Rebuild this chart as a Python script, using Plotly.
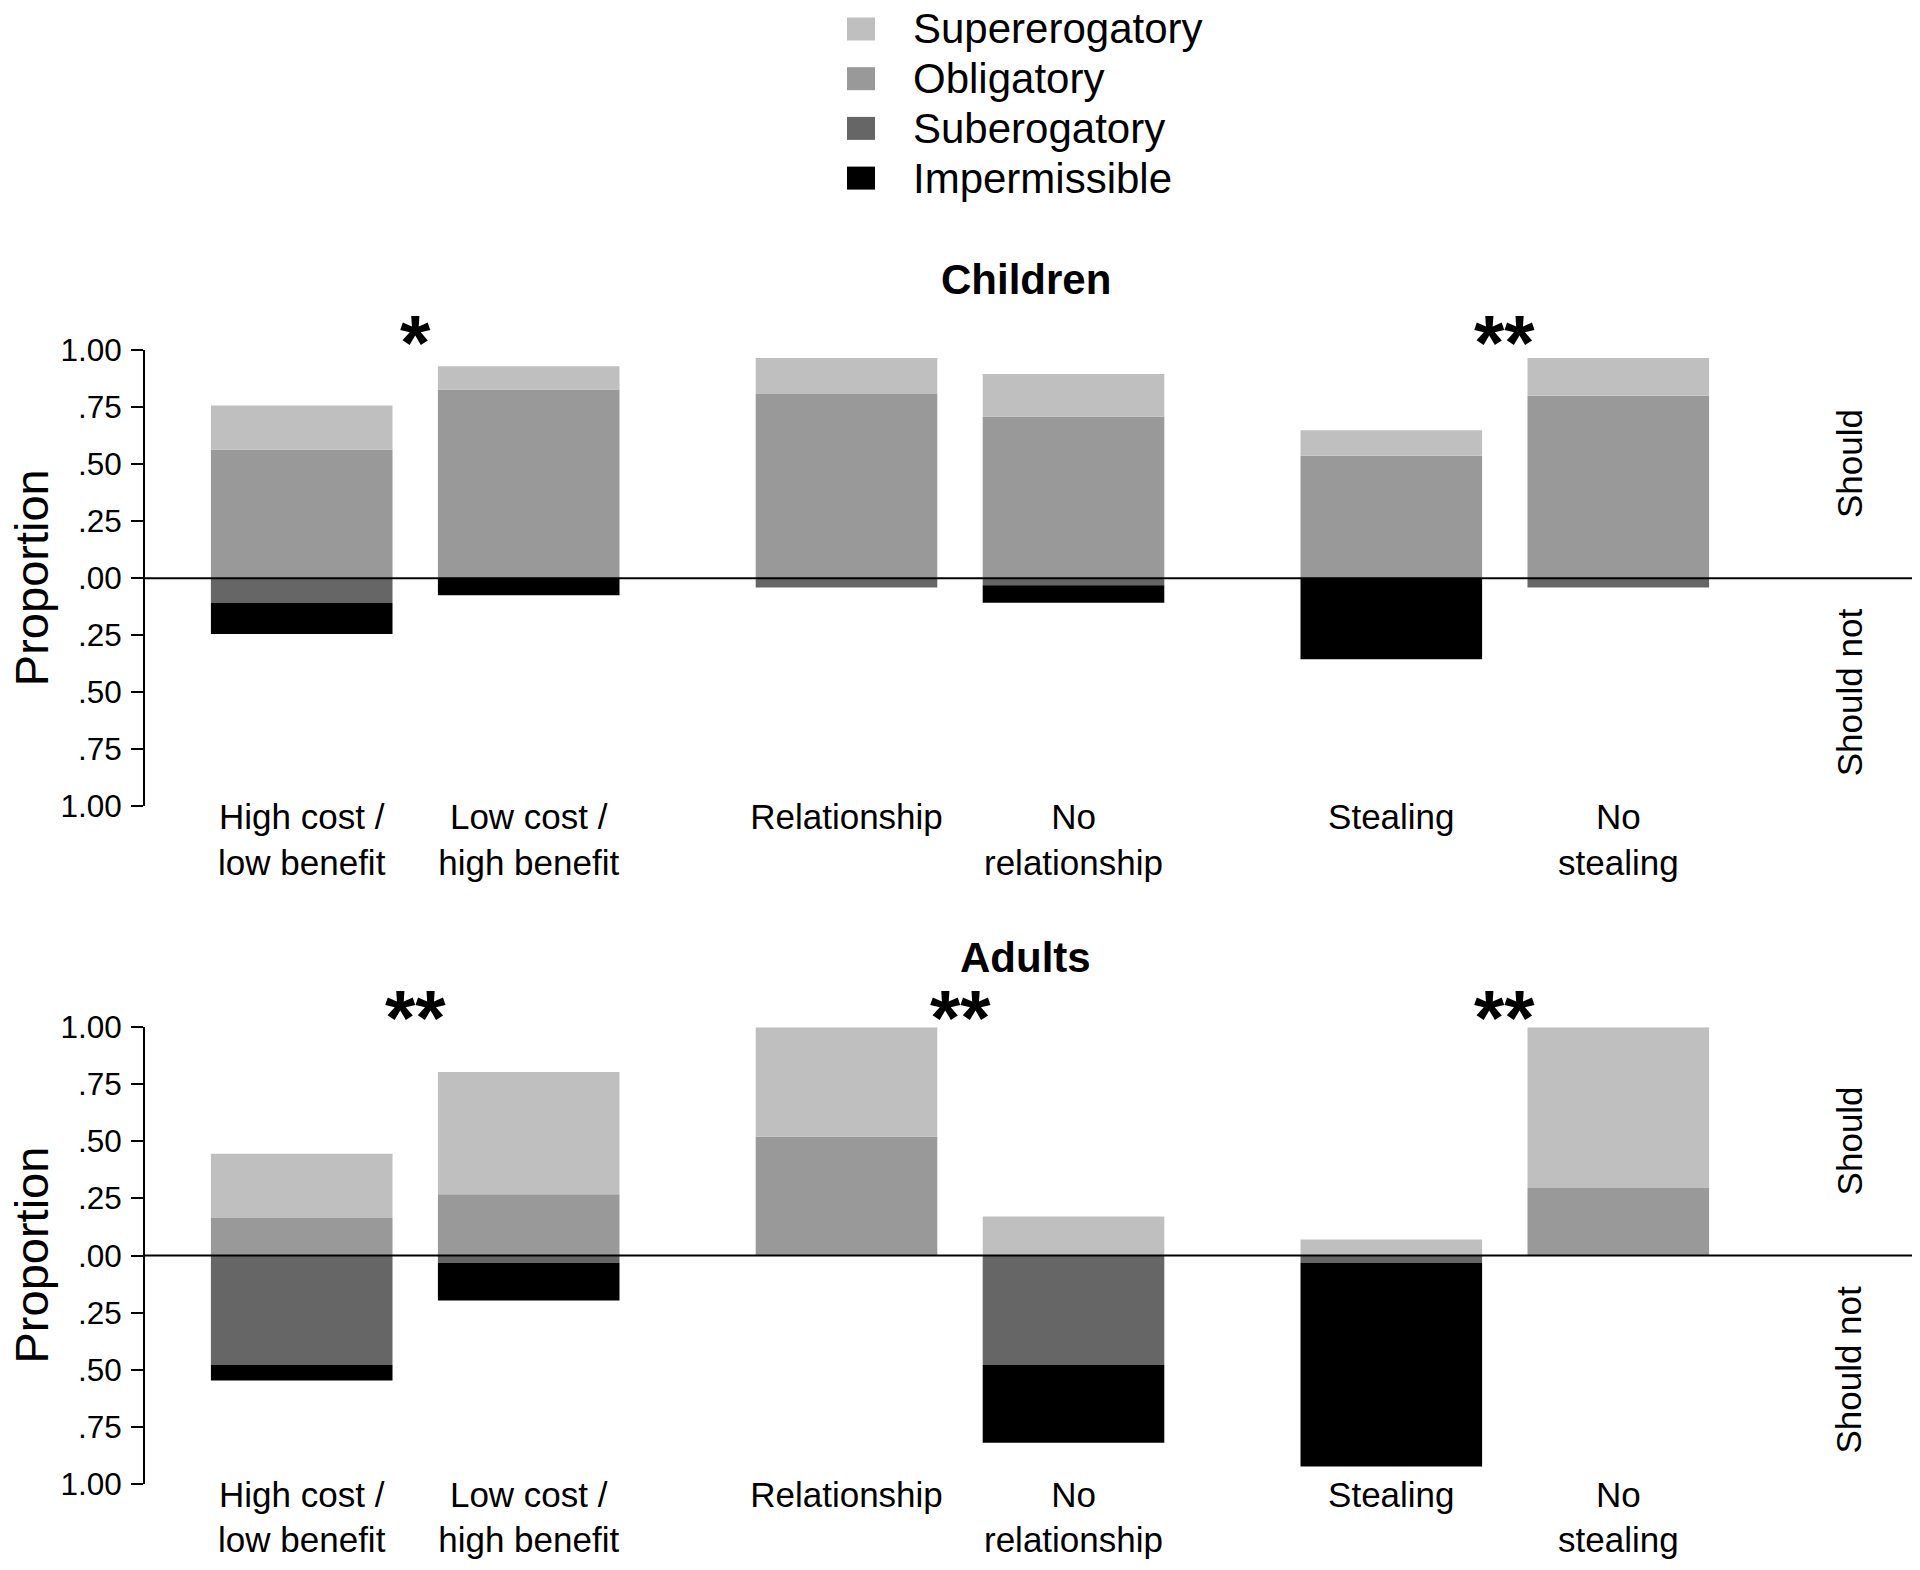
import plotly.graph_objects as go

# ---------------------
# Data
# ---------------------
categories = ["High cost /<br>low benefit", "Low cost /<br>high benefit",
              "Relationship", "No<br>relationship",
              "Stealing", "No<br>stealing"]
x_pos = [0, 1, 2.4, 3.4, 4.8, 5.8]

series = ["Supererogatory", "Obligatory", "Suberogatory", "Impermissible"]
colors = ["#bfbfbf", "#999999", "#666666", "#000000"]

# Children (proportions; suberogatory / impermissible go below zero)
child_super = [0.193, 0.102, 0.158, 0.186, 0.111, 0.165]
child_oblig = [0.564, 0.827, 0.807, 0.709, 0.537, 0.800]
child_sub = [0.109, 0.0, 0.041, 0.031, 0.0, 0.041]
child_imp = [0.136, 0.075, 0.0, 0.077, 0.356, 0.0]

# Adults
adult_super = [0.282, 0.536, 0.479, 0.171, 0.070, 0.704]
adult_oblig = [0.164, 0.268, 0.521, 0.0, 0.0, 0.296]
adult_sub = [0.480, 0.032, 0.0, 0.480, 0.033, 0.0]
adult_imp = [0.068, 0.165, 0.0, 0.341, 0.892, 0.0]

# significance marks: (x between bars, text)
child_sig = [(0.5, "*"), (5.3, "**")]
adult_sig = [(0.5, "**"), (2.9, "**"), (5.3, "**")]

ytick_vals = [-1, -0.75, -0.5, -0.25, 0, 0.25, 0.5, 0.75, 1]
ytick_text = ["1.00", ".75", ".50", ".25", ".00", ".25", ".50", ".75", "1.00"]

FONT = "Liberation Sans, Arial, sans-serif"
W, H = 1920, 1570
OFF = 8  # page body margin


def px(s):
    return (s - OFF) / W


def py(s):
    return 1 - (s - OFF) / H


fig = go.Figure()


def add_panel(sup, obl, sub, imp, xa, ya):
    # stacking order: positives (oblig, then super), negatives (sub, then imp)
    stacks = [
        (obl, colors[1]),
        (sup, colors[0]),
        ([-v for v in sub], colors[2]),
        ([-v for v in imp], colors[3]),
    ]
    for vals, col in stacks:
        fig.add_trace(go.Bar(
            x=x_pos, y=vals, width=0.8, marker_color=col,
            marker_line_width=0, xaxis=xa, yaxis=ya, showlegend=False,
        ))


add_panel(child_super, child_oblig, child_sub, child_imp, "x", "y")
add_panel(adult_super, adult_oblig, adult_sub, adult_imp, "x2", "y2")

# pixel geometry -> paper domains
x_dom = [px(145), 1.0]
top_dom = [py(806.3), py(350)]
bot_dom = [py(1483.7), py(1027.3)]
x_unit = 227.0
x_zero = 301.7 - OFF
x_range = [(145 - OFF - x_zero) / x_unit, (W - x_zero) / x_unit]

xaxis_common = dict(
    range=x_range, tickvals=x_pos, ticktext=categories, showline=False,
    showgrid=False, zeroline=False, ticks="", automargin=False,
    ticklabelstandoff=-13,
    tickfont=dict(family=FONT, size=35, color="black"),
)
yaxis_common = dict(
    range=[-1, 1], tickvals=ytick_vals, ticktext=ytick_text,
    showline=True, linecolor="black", linewidth=2, ticks="outside",
    ticklen=12, tickwidth=2, tickcolor="black", showgrid=False,
    zeroline=False, ticklabelstandoff=3, automargin=False,
    tickfont=dict(family=FONT, size=31.5, color="black"),
)

fig.update_layout(
    barmode="relative",
    width=W, height=H,
    margin=dict(l=0, r=0, t=0, b=0, autoexpand=False),
    plot_bgcolor="white", paper_bgcolor="white",
    xaxis=dict(domain=x_dom, anchor="y", **xaxis_common),
    yaxis=dict(domain=top_dom, anchor="x", **yaxis_common),
    xaxis2=dict(domain=x_dom, anchor="y2", **xaxis_common),
    yaxis2=dict(domain=bot_dom, anchor="x2", **yaxis_common),
    showlegend=False,
)

# zero lines across the panels, above the bars
for xr, yr in [("x domain", "y"), ("x2 domain", "y2")]:
    fig.add_shape(type="line", xref=xr, yref=yr, x0=0, x1=1, y0=0, y1=0,
                  line=dict(color="black", width=2), layer="above")

annos = []
# panel titles
for txt, ypx in [("Children", 280), ("Adults", 957.5)]:
    annos.append(dict(text="<b>" + txt + "</b>", x=px(1026), y=py(ypx),
                      xref="paper", yref="paper", showarrow=False,
                      xanchor="center", yanchor="middle",
                      font=dict(family=FONT, size=42, color="black")))

# y titles and Should / Should not labels
for ya in ["y", "y2"]:
    annos.append(dict(text="Proportion", x=px(31), xref="paper", y=0, yref=ya,
                      textangle=-90, showarrow=False,
                      xanchor="center", yanchor="middle",
                      font=dict(family=FONT, size=47, color="black")))
    for txt, yv in [("Should", 0.5), ("Should not", -0.5)]:
        annos.append(dict(text=txt, x=px(1849), xref="paper", y=yv, yref=ya,
                          textangle=-90, showarrow=False,
                          xanchor="center", yanchor="middle",
                          font=dict(family=FONT, size=35, color="black")))

# significance asterisks
for sig, xa, ya, yv in [(child_sig, "x", "y domain", 1.016),
                        (adult_sig, "x2", "y2 domain", 1.021)]:
    for xv, txt in sig:
        annos.append(dict(text="<b>" + txt + "</b>", x=xv, y=yv, xref=xa,
                          yref=ya, showarrow=False,
                          xanchor="center", yanchor="middle",
                          font=dict(family=FONT, size=78, color="black")))

# legend (drawn by hand to match the square keys)
for i, (name, col) in enumerate(zip(series, colors)):
    cy = 29 + i * 49.7
    fig.add_shape(type="rect", xref="paper", yref="paper",
                  x0=px(847), x1=px(875),
                  y0=py(cy + 11.5), y1=py(cy - 11.5),
                  fillcolor=col, line_width=0)
    annos.append(dict(text=name, x=px(911), y=py(cy), xref="paper",
                      yref="paper", xanchor="left", yanchor="middle",
                      showarrow=False,
                      font=dict(family=FONT, size=42, color="black")))

fig.update_layout(annotations=annos)

fig.write_html("out.html")
